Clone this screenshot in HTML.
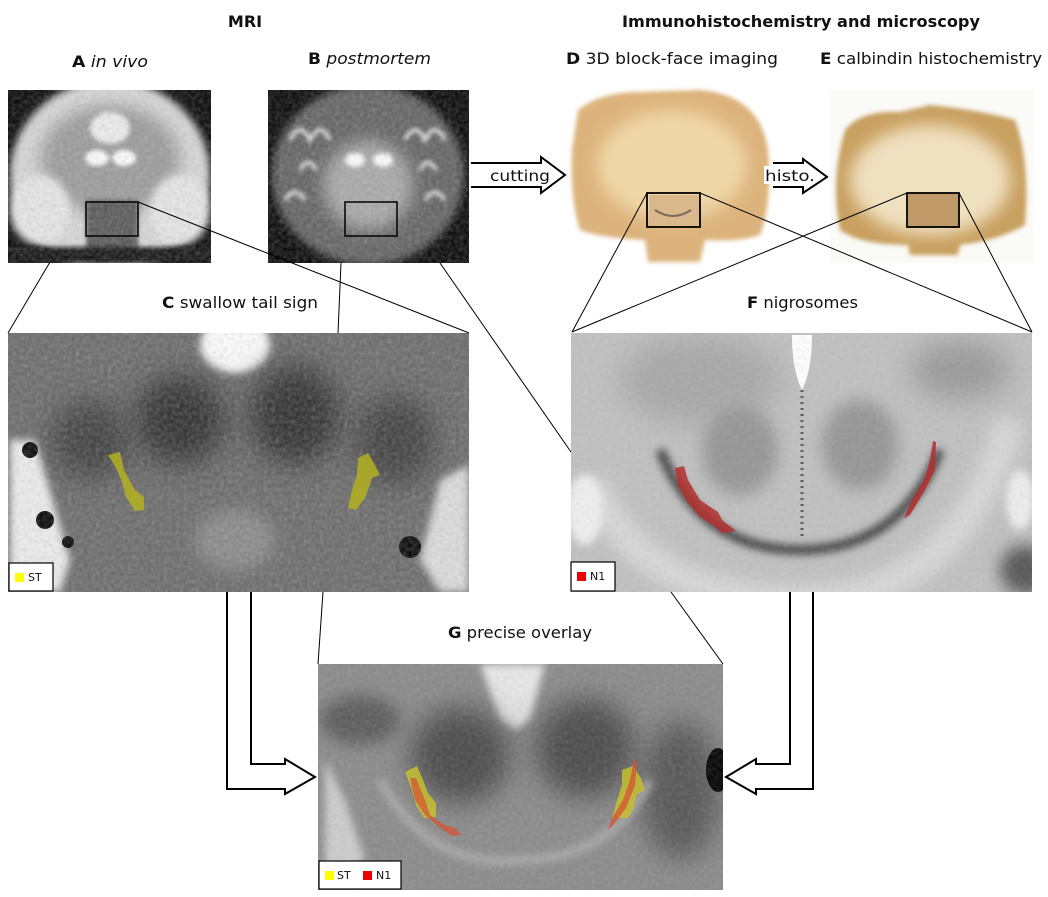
<!DOCTYPE html>
<html><head><meta charset="utf-8"><style>
html,body{margin:0;padding:0;background:#fff;width:1048px;height:897px;overflow:hidden}
svg{display:block}
text{font-family:"DejaVu Sans","Liberation Sans",sans-serif;fill:#111}
</style></head><body>
<svg width="1048" height="897" viewBox="0 0 1048 897" xmlns="http://www.w3.org/2000/svg">
<defs>
<filter id="b2" x="-50%" y="-50%" width="200%" height="200%"><feGaussianBlur stdDeviation="2"/></filter>
<filter id="b4" x="-50%" y="-50%" width="200%" height="200%"><feGaussianBlur stdDeviation="4"/></filter>
<filter id="b8" x="-80%" y="-80%" width="260%" height="260%"><feGaussianBlur stdDeviation="8"/></filter>
<filter id="b14" x="-100%" y="-100%" width="300%" height="300%"><feGaussianBlur stdDeviation="14"/></filter>
<filter id="noise" x="0" y="0" width="100%" height="100%"><feTurbulence type="fractalNoise" baseFrequency="0.25" numOctaves="2" seed="3"/><feColorMatrix type="saturate" values="0"/><feComponentTransfer><feFuncA type="linear" slope="0.35"/></feComponentTransfer></filter>
<clipPath id="cA"><rect x="8" y="90" width="203" height="173"/></clipPath>
<clipPath id="cB"><rect x="268" y="90" width="201" height="173"/></clipPath>
<clipPath id="cC"><rect x="8" y="333" width="461" height="259"/></clipPath>
<clipPath id="cF"><rect x="571" y="333" width="461" height="259"/></clipPath>
<clipPath id="cG"><rect x="318" y="664" width="405" height="226"/></clipPath>
</defs>

<text x="245" y="27" font-size="16" font-weight="bold" text-anchor="middle">MRI</text>
<text x="622" y="27" font-size="16" font-weight="bold" textLength="358" lengthAdjust="spacingAndGlyphs">Immunohistochemistry and microscopy</text>
<text x="72" y="67" font-size="16" textLength="76" lengthAdjust="spacingAndGlyphs"><tspan font-weight="bold">A</tspan> <tspan font-style="italic">in vivo</tspan></text>
<text x="308" y="64" font-size="16" textLength="123" lengthAdjust="spacingAndGlyphs"><tspan font-weight="bold">B</tspan> <tspan font-style="italic">postmortem</tspan></text>
<text x="566" y="64" font-size="16" textLength="212" lengthAdjust="spacingAndGlyphs"><tspan font-weight="bold">D</tspan> 3D block-face imaging</text>
<text x="820" y="64" font-size="16" textLength="222" lengthAdjust="spacingAndGlyphs"><tspan font-weight="bold">E</tspan> calbindin histochemistry</text>
<text x="162" y="308" font-size="16" textLength="156" lengthAdjust="spacingAndGlyphs"><tspan font-weight="bold">C</tspan> swallow tail sign</text>
<text x="747" y="308" font-size="16" textLength="111" lengthAdjust="spacingAndGlyphs"><tspan font-weight="bold">F</tspan> nigrosomes</text>
<text x="448" y="638" font-size="16" textLength="144" lengthAdjust="spacingAndGlyphs"><tspan font-weight="bold">G</tspan> precise overlay</text>

<!-- A -->
<g clip-path="url(#cA)">
<rect x="8" y="90" width="203" height="173" fill="#000"/>
<ellipse cx="110" cy="175" rx="100" ry="95" fill="#d8d8d8" filter="url(#b4)"/>
<ellipse cx="110" cy="160" rx="70" ry="55" fill="#9a9a9a" filter="url(#b8)"/>
<ellipse cx="40" cy="210" rx="30" ry="35" fill="#e8e8e8" filter="url(#b4)"/>
<ellipse cx="180" cy="210" rx="30" ry="35" fill="#e8e8e8" filter="url(#b4)"/>
<ellipse cx="110" cy="128" rx="20" ry="16" fill="#eee" filter="url(#b2)"/>
<ellipse cx="97" cy="158" rx="12" ry="8" fill="#fff" filter="url(#b2)"/>
<ellipse cx="124" cy="158" rx="12" ry="8" fill="#fff" filter="url(#b2)"/>
<rect x="86" y="200" width="52" height="63" fill="#555" filter="url(#b2)"/>
<rect x="8" y="247" width="203" height="16" fill="#111" filter="url(#b2)"/>
<rect x="8" y="90" width="203" height="173" filter="url(#noise)"/>
</g>
<rect x="86" y="202" width="52" height="34" fill="none" stroke="#000" stroke-width="1.5"/>

<!-- B -->
<g clip-path="url(#cB)">
<rect x="268" y="90" width="201" height="173" fill="#000"/>
<ellipse cx="368" cy="175" rx="96" ry="90" fill="#5e5e5e" filter="url(#b4)"/>
<ellipse cx="368" cy="185" rx="45" ry="45" fill="#a8a8a8" filter="url(#b8)"/>
<ellipse cx="355" cy="160" rx="10" ry="7" fill="#fff" filter="url(#b2)"/>
<ellipse cx="383" cy="160" rx="10" ry="7" fill="#fff" filter="url(#b2)"/>
<path d="M290 140 q10 -20 20 0 q10 -20 20 0 M405 140 q10 -20 20 0 q10 -20 20 0 M285 200 q10 -15 20 0 M425 200 q10 -15 20 0 M300 170 q8 -15 16 0 M420 170 q8 -15 16 0" stroke="#e0e0e0" stroke-width="4" fill="none" filter="url(#b2)"/>
<rect x="268" y="90" width="201" height="173" filter="url(#noise)"/>
</g>
<rect x="345" y="202" width="52" height="34" fill="none" stroke="#000" stroke-width="1.5"/>

<!-- D -->
<path d="M578 110 Q600 92 640 92 L700 90 Q760 95 768 150 Q772 205 760 235 Q740 242 705 240 L700 262 L648 262 L645 240 Q600 238 580 230 Q570 200 572 150 Z" fill="#dcb37c" filter="url(#b2)"/>
<ellipse cx="672" cy="165" rx="75" ry="55" fill="#efd7a8" filter="url(#b8)"/>
<rect x="649" y="195" width="50" height="30" fill="#d9b88b"/>
<path d="M655 210 q18 12 36 0" stroke="#7a6a5a" stroke-width="2" fill="none"/>
<rect x="647" y="193" width="53" height="34" fill="none" stroke="#000" stroke-width="1.8"/>

<!-- E -->
<rect x="830" y="90" width="203" height="173" fill="#fafaf7"/>
<path d="M845 130 Q860 110 900 112 L930 105 Q980 110 1015 120 Q1030 160 1025 225 Q1000 240 960 245 L958 255 L910 255 L908 245 Q860 245 840 230 Q830 180 845 130 Z" fill="#c8a060" filter="url(#b2)"/>
<ellipse cx="930" cy="180" rx="80" ry="55" fill="#efe0c0" filter="url(#b8)"/>
<rect x="908" y="193" width="51" height="34" fill="#bf9a68"/>
<rect x="907" y="193" width="52" height="34" fill="none" stroke="#000" stroke-width="1.8"/>

<path d="M471 163 H541 V157 L565 175 L541 193 V187 H471" fill="#fff" stroke="#000" stroke-width="2"/>
<text x="490" y="181" font-size="15" textLength="60" lengthAdjust="spacingAndGlyphs">cutting</text>
<path d="M773 163 H803 V159 L827 177 L803 193 V187 H773" fill="#fff" stroke="#000" stroke-width="2"/>
<rect x="764" y="166" width="36" height="18" fill="#fff"/>
<text x="765" y="181" font-size="15" textLength="50" lengthAdjust="spacingAndGlyphs">histo.</text>

<g stroke="#000" stroke-width="1" fill="none">
<line x1="50" y1="262" x2="8" y2="333"/>
<line x1="138" y1="202" x2="469" y2="333"/>
<line x1="341" y1="263" x2="338" y2="333"/>
<line x1="440" y1="263" x2="571" y2="452"/>
<line x1="647" y1="193" x2="572" y2="332"/>
<line x1="700" y1="193" x2="1032" y2="332"/>
<line x1="907" y1="193" x2="572" y2="332"/>
<line x1="959" y1="193" x2="1032" y2="332"/>
</g>

<!-- C -->
<g clip-path="url(#cC)">
<rect x="8" y="333" width="461" height="259" fill="#686868"/>
<ellipse cx="235" cy="345" rx="35" ry="28" fill="#fff" filter="url(#b4)"/>
<ellipse cx="180" cy="420" rx="45" ry="45" fill="#2a2a2a" filter="url(#b14)"/>
<ellipse cx="295" cy="415" rx="45" ry="50" fill="#2a2a2a" filter="url(#b14)"/>
<ellipse cx="90" cy="440" rx="40" ry="40" fill="#3a3a3a" filter="url(#b14)"/>
<ellipse cx="395" cy="440" rx="40" ry="45" fill="#3a3a3a" filter="url(#b14)"/>
<ellipse cx="235" cy="540" rx="40" ry="30" fill="#888" filter="url(#b8)"/>
<path d="M10 440 L35 440 L70 560 L60 592 L10 592 Z" fill="#eee" filter="url(#b4)"/>
<path d="M469 465 L440 480 L420 560 L440 592 L469 592 Z" fill="#ddd" filter="url(#b4)"/>
<circle cx="30" cy="450" r="8" fill="#000"/>
<circle cx="45" cy="520" r="9" fill="#000"/>
<circle cx="68" cy="542" r="6" fill="#000"/>
<circle cx="410" cy="547" r="11" fill="#000"/>
<rect x="8" y="333" width="461" height="259" filter="url(#noise)"/>
<path d="M108 455 L120 452 L124 470 L135 490 L144 497 L144 510 L135 511 L126 497 L122 482 L116 468 Z" fill="#b3b020" opacity="0.85"/>
<path d="M358 458 L368 453 L375 465 L380 475 L372 478 L365 498 L356 510 L348 508 L352 490 L357 475 Z" fill="#b3b020" opacity="0.85"/>
</g>
<rect x="9" y="563" width="44" height="28" fill="#fff" stroke="#000" stroke-width="1.2"/>
<rect x="15" y="573" width="9" height="9" fill="#ffff00"/>
<text x="28" y="581" font-size="11">ST</text>

<!-- F -->
<g clip-path="url(#cF)">
<rect x="571" y="333" width="461" height="259" fill="#c0c0c0"/>
<ellipse cx="700" cy="380" rx="80" ry="45" fill="#a8a8a8" filter="url(#b14)"/>
<ellipse cx="740" cy="450" rx="38" ry="45" fill="#959595" filter="url(#b8)"/>
<ellipse cx="860" cy="445" rx="38" ry="45" fill="#959595" filter="url(#b8)"/>
<ellipse cx="960" cy="370" rx="50" ry="30" fill="#9a9a9a" filter="url(#b14)"/>
<path d="M660 450 Q700 550 800 550 Q900 550 940 450" stroke="#444" stroke-width="10" fill="none" filter="url(#b4)"/>
<path d="M590 480 Q640 600 800 600 Q960 600 1010 420" stroke="#d8d8d8" stroke-width="30" fill="none" filter="url(#b8)"/>
<path d="M792 335 L812 335 Q812 370 802 390 Q792 370 792 335 Z" fill="#fff"/>
<line x1="802" y1="390" x2="802" y2="540" stroke="#555" stroke-width="3" stroke-dasharray="2 4"/>
<ellipse cx="585" cy="510" rx="18" ry="35" fill="#f0f0f0" filter="url(#b4)"/>
<ellipse cx="1020" cy="500" rx="14" ry="30" fill="#eee" filter="url(#b4)"/>
<ellipse cx="1025" cy="570" rx="25" ry="25" fill="#555" filter="url(#b8)"/>
<rect x="571" y="333" width="461" height="259" filter="url(#noise)" opacity="0.5"/>
<path d="M675 468 L684 466 L688 480 L700 500 L718 512 L722 520 L736 531 L722 533 L714 526 L700 517 L688 503 L678 486 Z" fill="#b33030" opacity="0.85"/>
<path d="M933 441 L936 442 L935 470 L925 490 L910 515 L904 518 L912 500 L925 478 L930 460 Z" fill="#b33030" opacity="0.85"/>
</g>
<rect x="571" y="562" width="44" height="29" fill="#fff" stroke="#000" stroke-width="1.2"/>
<rect x="577" y="572" width="9" height="9" fill="#ee0000"/>
<text x="590" y="580" font-size="11">N1</text>

<line x1="323" y1="592" x2="318" y2="664" stroke="#000" stroke-width="1"/>
<line x1="671" y1="592" x2="723" y2="664" stroke="#000" stroke-width="1"/>

<!-- G -->
<g clip-path="url(#cG)">
<rect x="318" y="664" width="405" height="226" fill="#8a8a8a"/>
<path d="M480 664 L545 664 L530 720 L515 730 L500 720 Z" fill="#e8e8e8" filter="url(#b4)"/>
<ellipse cx="460" cy="755" rx="50" ry="48" fill="#4a4a4a" filter="url(#b14)"/>
<ellipse cx="585" cy="748" rx="50" ry="50" fill="#4a4a4a" filter="url(#b14)"/>
<ellipse cx="360" cy="720" rx="40" ry="25" fill="#5a5a5a" filter="url(#b8)"/>
<ellipse cx="680" cy="790" rx="40" ry="70" fill="#555" filter="url(#b14)"/>
<path d="M325 760 L345 800 L365 860 L325 880 Z" fill="#ccc" filter="url(#b4)"/>
<path d="M380 780 Q430 870 520 860 Q610 860 650 780" stroke="#aaa" stroke-width="8" fill="none" filter="url(#b4)"/>
<ellipse cx="718" cy="770" rx="12" ry="22" fill="#000"/>
<rect x="318" y="664" width="405" height="226" filter="url(#noise)" opacity="0.6"/>
<path d="M405 772 L417 766 L423 780 L428 793 L436 803 L436 817 L424 818 L416 805 L412 790 Z" fill="#c4c030" opacity="0.85"/>
<path d="M410 778 L416 778 L425 800 L430 815 L445 825 L455 828 L462 835 L452 836 L440 828 L425 815 L415 800 Z" fill="#d85030" opacity="0.7"/>
<path d="M622 770 L633 766 L641 778 L645 790 L637 794 L633 810 L628 818 L612 818 L617 800 L622 785 Z" fill="#c4c030" opacity="0.85"/>
<path d="M634 760 L637 762 L635 785 L626 808 L615 823 L608 830 L612 818 L623 800 L630 780 Z" fill="#d85030" opacity="0.75"/>
</g>
<rect x="319" y="861" width="82" height="28" fill="#fff" stroke="#000" stroke-width="1.2"/>
<rect x="325" y="871" width="9" height="9" fill="#ffff00"/>
<text x="337" y="879" font-size="11">ST</text>
<rect x="363" y="871" width="9" height="9" fill="#ee0000"/>
<text x="376" y="879" font-size="11">N1</text>

<path d="M227 592 V789 H285 V794 L315 777 L285 759 V764 H251 V592" fill="#fff" stroke="#000" stroke-width="2"/>
<path d="M813 592 V789 H756 V794 L726 777 L756 759 V764 H790 V592" fill="#fff" stroke="#000" stroke-width="2"/>
</svg>
</body></html>
